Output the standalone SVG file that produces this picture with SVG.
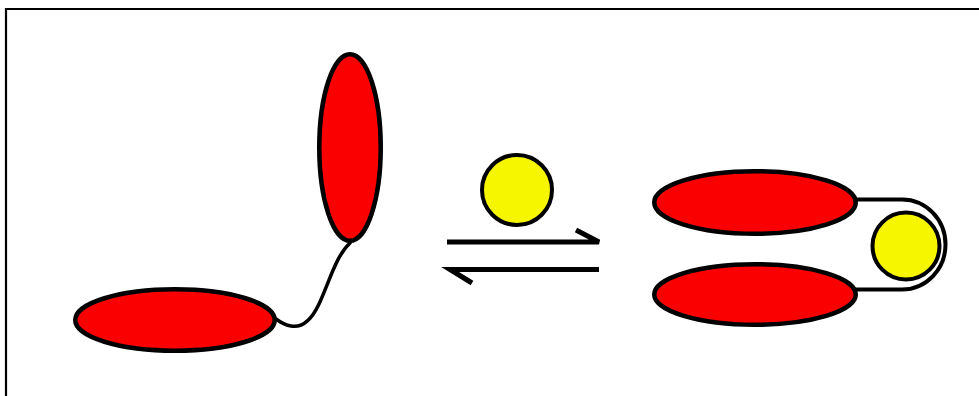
<svg xmlns="http://www.w3.org/2000/svg" width="979" height="396" viewBox="0 0 979 396">
  <style>
    .red { fill: #fa0000; stroke: #000; stroke-width: 4.5; }
    .yel { fill: #f6f600; stroke: #000; stroke-width: 4; }
    .line { fill: none; stroke: #000; stroke-width: 3.5; stroke-linecap: round; stroke-linejoin: round; }
    .loop { fill: none; stroke: #000; stroke-width: 4; }
    .arrow { fill: none; stroke: #000; stroke-width: 5; stroke-linecap: butt; stroke-linejoin: miter; }
  </style>
  <rect width="979" height="396" fill="#fff"/>
  <path d="M6,396 V9 H979" fill="none" stroke="#000" stroke-width="2.2"/>

  <g id="connectors">
    <path id="linker-left" class="line" d="M350,243 C336,256 330,280 319,304 C311,321 302,328 291,326 C284,325 280,322 276,319"/>
    <path id="loop-right" class="loop" d="M856,199.5 H902 A43.5,45 0 0 1 902,289.5 H856"/>
    <path id="arrow-forward" class="arrow" d="M447,242 H599 L576,230"/>
    <path id="arrow-back" class="arrow" d="M599,269.5 H450 L472,283"/>
  </g>

  <g id="vertical-domain">
    <ellipse class="red" cx="350" cy="147.5" rx="30.75" ry="93.25"/>
  </g>
  <g id="horizontal-domain">
    <ellipse class="red" cx="175" cy="320" rx="99.75" ry="30.75"/>
  </g>
  <g id="ligand-free">
    <circle class="yel" cx="517" cy="190" r="35"/>
  </g>
  <g id="bound-domain-top">
    <ellipse class="red" cx="755" cy="202.5" rx="100.75" ry="31.25"/>
  </g>
  <g id="bound-domain-bottom">
    <ellipse class="red" cx="755" cy="294.5" rx="100.75" ry="30.25"/>
  </g>
  <g id="ligand-bound">
    <circle class="yel" cx="906" cy="246" r="33.5"/>
  </g>
</svg>
